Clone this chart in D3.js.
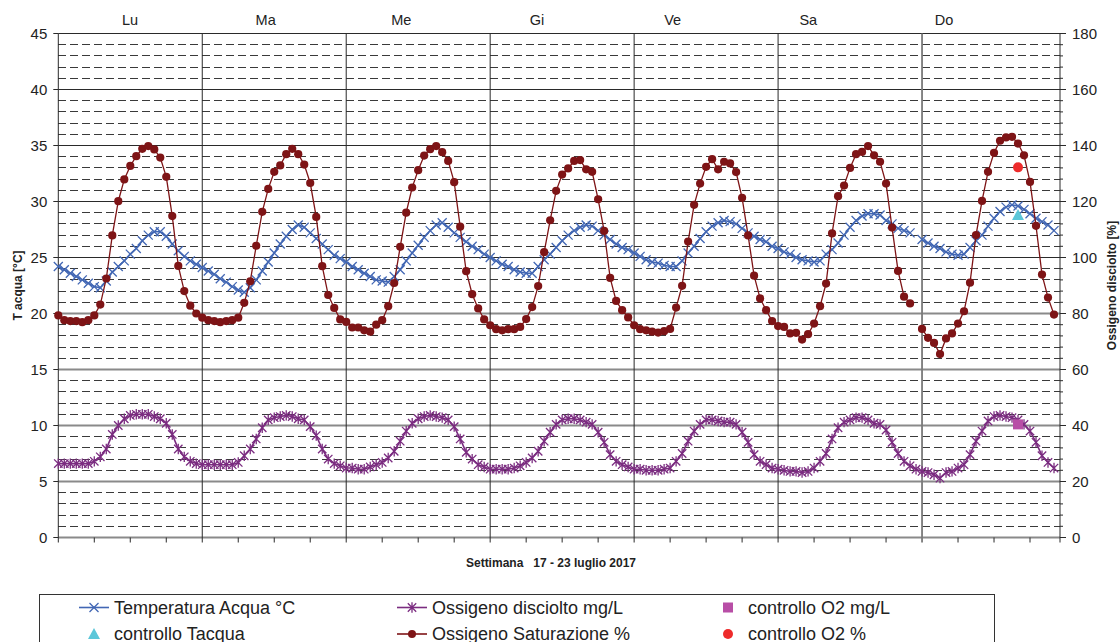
<!DOCTYPE html>
<html><head><meta charset="utf-8">
<script src="https://cdn.jsdelivr.net/npm/d3@7"></script>
<style>body{margin:0;background:#fff}svg{display:block}text{font-family:"Liberation Sans",Arial,sans-serif}</style>
</head><body><svg id="c" width="1120" height="642"></svg>
<script>
// ---- data (hourly, Lu 00:00 -> Do 22:00) ----
const days = ["Lu","Ma","Me","Gi","Ve","Sa","Do"];
const leftTicks = [0,5,10,15,20,25,30,35,40,45];
const rightTicks = [0,20,40,60,80,100,120,140,160,180];
const tempAcqua = [
 24.2,23.9,23.6,23.3,23.0,22.7,22.4,22.3,22.9,23.7,24.2,24.7,25.3,25.8,26.5,27.0,27.3,27.3,26.9,26.2,25.6,25.1,24.7,24.4,
 24.1,23.8,23.5,23.1,22.8,22.4,22.1,21.9,22.3,23.0,23.8,24.6,25.4,26.2,26.9,27.5,27.9,27.7,27.2,26.7,26.2,25.7,25.2,24.9,
 24.6,24.2,23.9,23.6,23.3,23.0,22.9,22.8,23.3,23.9,24.7,25.4,26.1,26.8,27.4,27.9,28.1,27.7,27.2,26.8,26.4,26.0,25.7,25.3,
 25.0,24.7,24.4,24.2,23.9,23.7,23.6,23.6,24.2,24.8,25.3,25.9,26.5,27.0,27.4,27.7,27.9,27.8,27.4,27.0,26.6,26.2,25.9,25.7,
 25.4,25.1,24.8,24.6,24.5,24.3,24.2,24.2,24.7,25.4,26.0,26.7,27.3,27.8,28.1,28.3,28.2,28.0,27.6,27.2,26.9,26.6,26.4,26.0,
 25.8,25.5,25.3,25.0,24.8,24.7,24.6,24.7,25.3,25.7,26.3,27.0,27.7,28.3,28.7,28.9,28.9,28.8,28.3,28.0,27.6,27.4,27.2,null,
 26.6,26.3,26.0,25.8,25.5,25.3,25.2,25.3,25.9,26.5,27.0,27.8,28.5,29.1,29.5,29.7,29.6,29.3,28.9,28.5,28.2,27.9,27.4
];
const o2mgL = [
 6.6,6.6,6.6,6.6,6.6,6.6,6.8,7.2,7.9,9.2,10.0,10.6,10.9,11.0,11.0,11.0,10.8,10.6,10.2,9.2,7.9,7.2,6.8,6.6,
 6.5,6.5,6.5,6.5,6.5,6.5,6.7,7.3,7.9,8.8,9.8,10.5,10.7,10.8,10.9,10.8,10.6,10.5,9.9,9.1,7.9,7.0,6.6,6.4,
 6.2,6.2,6.1,6.1,6.3,6.5,6.7,7.1,7.7,8.6,9.5,10.2,10.6,10.8,10.9,10.8,10.7,10.5,9.9,8.8,7.6,7.0,6.5,6.3,
 6.1,6.1,6.1,6.1,6.2,6.4,6.7,7.1,7.7,8.6,9.4,10.1,10.5,10.6,10.6,10.5,10.3,10.1,9.4,8.5,7.4,6.8,6.5,6.3,
 6.1,6.1,6.0,6.0,6.0,6.1,6.2,6.8,7.5,8.6,9.5,10.1,10.5,10.5,10.4,10.3,10.3,10.1,9.4,8.5,7.4,6.8,6.5,6.2,
 6.1,6.0,5.9,5.9,5.8,5.9,6.2,6.8,7.5,8.8,9.8,10.3,10.5,10.7,10.7,10.5,10.2,10.1,9.6,8.5,7.5,6.8,6.4,6.1,
 5.9,5.8,5.6,5.3,5.8,5.9,6.2,6.5,7.4,8.6,9.5,10.4,10.8,10.9,10.8,10.7,10.5,10.1,9.5,8.5,7.3,6.7,6.2
];
const o2sat = [
 79.3,77.6,77.3,77.3,76.9,77.6,79.3,83.2,92.5,107.9,120.1,127.9,132.7,136.2,138.8,139.8,138.6,135.7,128.8,114.8,97.0,88.0,82.8,80.0,
 78.5,77.6,77.3,76.9,77.3,77.6,78.5,83.8,91.5,104.2,116.3,124.5,130.6,132.9,136.9,138.8,136.9,133.2,126.6,114.5,96.9,86.6,82.0,77.9,
 77.0,75.0,75.0,74.0,73.5,76.0,77.6,82.6,90.9,103.8,116.0,125.0,131.2,136.4,138.7,139.8,137.6,134.5,126.9,111.0,95.1,86.9,81.8,77.9,
 75.8,74.4,74.0,74.4,74.4,75.2,78.0,82.3,89.8,101.9,113.3,123.8,129.6,131.8,134.5,134.8,131.5,130.6,120.8,109.5,92.7,84.5,81.2,78.6,
 75.8,74.4,74.0,73.5,73.2,73.7,74.5,82.1,89.9,105.7,118.8,126.4,132.4,135.1,131.5,134.2,133.6,130.5,121.3,107.9,93.5,85.4,81.2,77.3,
 75.5,75.2,72.9,73.1,70.7,72.6,76.4,82.6,90.7,108.6,121.9,125.7,132.0,136.9,137.7,139.8,136.5,134.2,126.4,110.7,95.2,86.0,83.6,null,
 74.5,71.3,69.5,65.5,71.1,72.9,76.4,80.8,91.0,108.0,120.2,130.6,137.4,141.7,142.9,143.1,140.7,136.5,127.0,111.3,93.9,85.7,79.6
];
// control measurements: [hour index, value]
const ctrlTacqua = [[160, 28.8]];
const ctrlO2pct = [[160, 132.2]];
const ctrlO2mg = [[160, 10.1]];
const legendItems = ["Temperatura Acqua °C","Ossigeno disciolto mg/L","controllo O2 mg/L","controllo Tacqua","Ossigeno Saturazione %","controllo O2 %"];
const xTitle = "Settimana   17 - 23 luglio 2017";

// ---- layout ----
const svg = d3.select("#c");
const L = 58.3, R = 1060, T = 33.5, B = 537.5;
const x = d3.scaleLinear().domain([0, 167]).range([L, R]);
const y = d3.scaleLinear().domain([0, 45]).range([B, T]);
const y2 = d3.scaleLinear().domain([0, 180]).range([B, T]);
const dayX = d3.scalePoint().domain(days).range([130, 944]);

const C = {blue:"#4267b4", purple:"#7b2c80", red:"#7e1416", cyan:"#5cc7d9", red2:"#ee2b2b", pink:"#b84ea6"};

// minor dashed grid every 1 °C
const minor = d3.range(1, 45).filter(v => v % 5 !== 0);
svg.append("g").selectAll("line").data(minor).join("line")
  .attr("x1", L).attr("x2", R).attr("y1", d => y(d)).attr("y2", d => y(d))
  .attr("stroke", "#3a3a3a").attr("stroke-width", 1).attr("stroke-dasharray", "8,4")
  .attr("shape-rendering", "crispEdges");
// major grid
svg.append("g").selectAll("line").data(leftTicks).join("line")
  .attr("x1", L).attr("x2", R).attr("y1", d => y(d)).attr("y2", d => y(d))
  .attr("stroke", d => d <= 20 ? "#8a8a8a" : "#2a2a2a").attr("stroke-width", d => d <= 20 ? 2 : 1);
// day separators
svg.append("g").selectAll("line").data(d3.range(24, 167, 24)).join("line")
  .attr("x1", d => x(d)).attr("x2", d => x(d)).attr("y1", T).attr("y2", B + 5)
  .attr("stroke", d => d === 144 ? "#7a7a7a" : "#2a2a2a").attr("stroke-width", d => d === 144 ? 1.8 : 1);
// axes lines
svg.append("line").attr("x1", L).attr("x2", L).attr("y1", T).attr("y2", B + 5).attr("stroke", "#2a2a2a");
svg.append("line").attr("x1", R).attr("x2", R).attr("y1", T).attr("y2", B + 5).attr("stroke", "#2a2a2a");
// bottom ticks every 6 h
svg.append("g").selectAll("line").data(d3.range(6, 167, 6).filter(d => d % 24 !== 0)).join("line")
  .attr("x1", d => x(d)).attr("x2", d => x(d)).attr("y1", B).attr("y2", B + 5).attr("stroke", "#2a2a2a");
// left ticks
const gl = svg.append("g");
gl.selectAll("line").data(leftTicks).join("line")
  .attr("x1", L - 5).attr("x2", L).attr("y1", d => y(d)).attr("y2", d => y(d)).attr("stroke", "#2a2a2a");
gl.selectAll("text").data(leftTicks).join("text")
  .attr("x", L - 11).attr("y", d => y(d)).attr("dy", "0.35em").attr("text-anchor", "end")
  .attr("font-size", 15).attr("fill", "#222").text(d => d);
// right ticks
const gr = svg.append("g");
gr.selectAll("line.m").data(d3.range(4, 180, 4).filter(v => v % 20 !== 0)).join("line")
  .attr("x1", R).attr("x2", R + 3).attr("y1", d => y2(d)).attr("y2", d => y2(d)).attr("stroke", "#2a2a2a");
gr.selectAll("line.M").data(rightTicks).join("line")
  .attr("x1", R).attr("x2", R + 6).attr("y1", d => y2(d)).attr("y2", d => y2(d)).attr("stroke", "#2a2a2a");
gr.selectAll("text").data(rightTicks).join("text")
  .attr("x", R + 12).attr("y", d => y2(d)).attr("dy", "0.35em").attr("text-anchor", "start")
  .attr("font-size", 15).attr("fill", "#222").text(d => d);
// day labels
svg.append("g").selectAll("text").data(days).join("text")
  .attr("x", d => dayX(d)).attr("y", 25).attr("text-anchor", "middle")
  .attr("font-size", 14.5).attr("fill", "#222").text(d => d);
// axis titles
svg.append("text").attr("transform", `translate(22,${(T + B) / 2}) rotate(-90)`)
  .attr("text-anchor", "middle").attr("font-size", 12).attr("font-weight", "bold").attr("fill", "#222").text("T acqua [°C]");
svg.append("text").attr("transform", `translate(1116,${(T + B) / 2}) rotate(-90)`)
  .attr("text-anchor", "middle").attr("font-size", 12).attr("font-weight", "bold").attr("fill", "#222").text("Ossigeno disciolto [%]");
svg.append("text").attr("x", 551).attr("y", 567).attr("text-anchor", "middle")
  .attr("font-size", 12).attr("font-weight", "bold").attr("fill", "#222").attr("xml:space", "preserve")
  .style("white-space", "pre").text(xTitle);

// ---- series ----
const crossPath = "M-4.5,-4.5L4.5,4.5M-4.5,4.5L4.5,-4.5";
const starPath = "M-4.2,-4.2L4.2,4.2M-4.2,4.2L4.2,-4.2M0,-5.2L0,5.2";
function drawSeries(data, ys, color, lw, marker) {
  const g = svg.append("g");
  const pts = data.map((v, i) => [i, v]);
  g.append("path").datum(pts)
    .attr("d", d3.line().defined(d => d[1] != null).x(d => x(d[0])).y(d => ys(d[1])))
    .attr("fill", "none").attr("stroke", color).attr("stroke-width", lw);
  const valid = pts.filter(d => d[1] != null);
  if (marker === "dot") {
    g.selectAll("circle").data(valid).join("circle")
      .attr("cx", d => x(d[0])).attr("cy", d => ys(d[1])).attr("r", 4.1).attr("fill", color);
  } else {
    g.selectAll("path.m").data(valid).join("path").attr("class", "m")
      .attr("transform", d => `translate(${x(d[0])},${ys(d[1])})`)
      .attr("d", marker === "x" ? crossPath : starPath)
      .attr("fill", "none").attr("stroke", color).attr("stroke-width", 1.3);
  }
}
drawSeries(tempAcqua, y, C.blue, 1.6, "x");
drawSeries(o2mgL, y, C.purple, 1.6, "star");
drawSeries(o2sat, y2, C.red, 1.3, "dot");

// control points
svg.append("g").selectAll("path").data(ctrlTacqua).join("path")
  .attr("transform", d => `translate(${x(d[0])},${y(d[1])})`)
  .attr("d", "M0,-6L6,5L-6,5Z").attr("fill", C.cyan);
svg.append("g").selectAll("circle").data(ctrlO2pct).join("circle")
  .attr("cx", d => x(d[0])).attr("cy", d => y2(d[1])).attr("r", 5).attr("fill", C.red2);
svg.append("g").selectAll("rect").data(ctrlO2mg).join("rect")
  .attr("x", d => x(d[0]) - 5).attr("y", d => y(d[1]) - 5).attr("width", 10).attr("height", 10).attr("fill", C.pink);

// ---- legend ----
const lg = svg.append("g");
lg.append("rect").attr("x", 39.5).attr("y", 594.5).attr("width", 955).attr("height", 60)
  .attr("fill", "#fff").attr("stroke", "#333").attr("stroke-width", 1);
const cols = [79, 397, 713];
const rows = [607.5, 634];
const legendDefs = [
  {col:0,row:0,type:"line",marker:"x",color:C.blue},
  {col:1,row:0,type:"line",marker:"star",color:C.purple},
  {col:2,row:0,type:"pt",marker:"square",color:C.pink},
  {col:0,row:1,type:"pt",marker:"tri",color:C.cyan},
  {col:1,row:1,type:"line",marker:"dot",color:C.red},
  {col:2,row:1,type:"pt",marker:"circle",color:C.red2}
];
legendDefs.forEach((d, i) => {
  const x0 = cols[d.col], yy = rows[d.row];
  const g = lg.append("g");
  if (d.type === "line") {
    g.append("line").attr("x1", x0).attr("x2", x0 + 30).attr("y1", yy).attr("y2", yy).attr("stroke", d.color).attr("stroke-width", 1.6);
    const cx = x0 + 15;
    if (d.marker === "dot") g.append("circle").attr("cx", cx).attr("cy", yy).attr("r", 4).attr("fill", d.color);
    else g.append("path").attr("transform", `translate(${cx},${yy})`).attr("d", d.marker === "x" ? crossPath : starPath)
      .attr("fill", "none").attr("stroke", d.color).attr("stroke-width", 1.3);
  } else {
    const cx = x0 + 15;
    if (d.marker === "square") g.append("rect").attr("x", cx - 5).attr("y", yy - 5).attr("width", 10).attr("height", 10).attr("fill", d.color);
    if (d.marker === "tri") g.append("path").attr("transform", `translate(${cx},${yy})`).attr("d", "M0,-6L6,5L-6,5Z").attr("fill", d.color);
    if (d.marker === "circle") g.append("circle").attr("cx", cx).attr("cy", yy).attr("r", 5).attr("fill", d.color);
  }
  g.append("text").attr("x", x0 + (d.type === "line" ? 35 : 35)).attr("y", yy).attr("dy", "0.36em")
    .attr("font-size", 18).attr("fill", "#222").text(legendItems[i]);
});
</script></body></html>
